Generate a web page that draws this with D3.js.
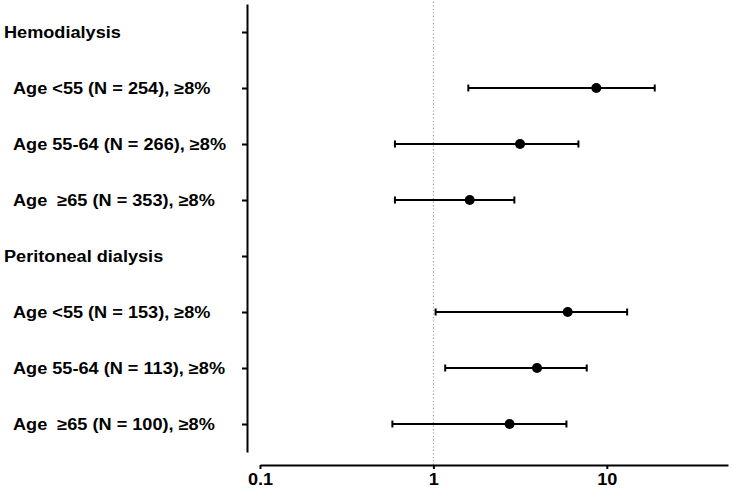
<!DOCTYPE html>
<html>
<head>
<meta charset="utf-8">
<script src="https://cdn.jsdelivr.net/npm/d3@7"></script>
<style>
  html, body { margin: 0; padding: 0; background: #fff; }
  svg text { font-family: "Liberation Sans", Arial, sans-serif; font-weight: bold; fill: #000; }
</style>
</head>
<body>
<div id="chart"></div>
<script>
// rows from top to bottom
const rowLabels = [
    "Hemodialysis",
    "Age <55 (N = 254), ≥8%",
    "Age 55-64 (N = 266), ≥8%",
    "Age  ≥65 (N = 353), ≥8%",
    "Peritoneal dialysis",
    "Age <55 (N = 153), ≥8%",
    "Age 55-64 (N = 113), ≥8%",
    "Age  ≥65 (N = 100), ≥8%"
];
const isHeader = [true, false, false, false, true, false, false, false];

// estimate and 95% CI, null for header rows
const estimate = [null, 8.7, 3.16, 1.62, null, 5.95, 3.96, 2.75];
const lower    = [null, 1.59, 0.60, 0.60, null, 1.03, 1.17, 0.58];
const upper    = [null, 18.9, 6.86, 2.93, null, 13.1, 7.66, 5.85];

const xTicks = [0.1, 1, 10];
const xTickLabels = ["0.1", "1", "10"];
const refValue = 1;

const width = 733, height = 491;

const svg = d3.select("#chart").append("svg")
    .attr("width", width)
    .attr("height", height);

const x = d3.scaleLog()
    .domain([0.1, 50])
    .range([260, 728]);

const y = d3.scalePoint()
    .domain(d3.range(rowLabels.length))
    .range([4, 452])
    .padding(0.5);

const axisY = 465;

// reference line at 1
svg.append("line")
    .attr("x1", x(refValue)).attr("x2", x(refValue))
    .attr("y1", 2).attr("y2", axisY)
    .attr("stroke", "#888")
    .attr("stroke-width", 1)
    .attr("stroke-dasharray", "1,2.5");

// left axis (ticks only, labels drawn separately)
const gy = svg.append("g")
    .attr("transform", "translate(247,0)")
    .call(d3.axisLeft(y).tickSize(5).tickSizeOuter(0).tickFormat(""));
gy.selectAll("path, line").attr("stroke", "#000").attr("stroke-width", 2);

// bottom axis
const gx = svg.append("g")
    .attr("transform", `translate(0,${axisY})`)
    .call(d3.axisBottom(x)
        .tickValues(xTicks)
        .tickFormat((d, i) => xTickLabels[i])
        .tickSize(4)
        .tickPadding(4)
        .tickSizeOuter(0));
gx.selectAll("path, line").attr("stroke", "#000").attr("stroke-width", 2);
gx.selectAll("text")
    .style("font-size", "16.5px")
    .style("font-family", "'Liberation Sans', Arial, sans-serif")
    .style("font-weight", "bold")
    .attr("fill", "#000")
    .attr("transform", "scale(1.1,1)");

// row labels
const labels = svg.append("g");
rowLabels.forEach((t, i) => {
    labels.append("g")
        .attr("transform", `translate(${isHeader[i] ? 4 : 13},${y(i)}) scale(1.12,1)`)
        .append("text")
        .attr("dy", "0.35em")
        .style("font-size", "16.2px")
        .style("white-space", "pre")
        .attr("xml:space", "preserve")
        .text(t);
});

// error bars
const rows = d3.range(rowLabels.length).filter(i => estimate[i] != null);
const capH = 7;

const bars = svg.append("g");
bars.selectAll(".ci")
    .data(rows)
    .enter().append("line")
    .attr("x1", i => x(lower[i]))
    .attr("x2", i => x(upper[i]))
    .attr("y1", i => y(i))
    .attr("y2", i => y(i))
    .attr("stroke", "#000")
    .attr("stroke-width", 2);

bars.selectAll(".capL")
    .data(rows)
    .enter().append("line")
    .attr("x1", i => x(lower[i]))
    .attr("x2", i => x(lower[i]))
    .attr("y1", i => y(i) - capH / 2)
    .attr("y2", i => y(i) + capH / 2)
    .attr("stroke", "#000")
    .attr("stroke-width", 2);

bars.selectAll(".capU")
    .data(rows)
    .enter().append("line")
    .attr("x1", i => x(upper[i]))
    .attr("x2", i => x(upper[i]))
    .attr("y1", i => y(i) - capH / 2)
    .attr("y2", i => y(i) + capH / 2)
    .attr("stroke", "#000")
    .attr("stroke-width", 2);

bars.selectAll(".pt")
    .data(rows)
    .enter().append("circle")
    .attr("cx", i => x(estimate[i]))
    .attr("cy", i => y(i))
    .attr("r", 5)
    .attr("fill", "#000");
</script>
</body>
</html>
